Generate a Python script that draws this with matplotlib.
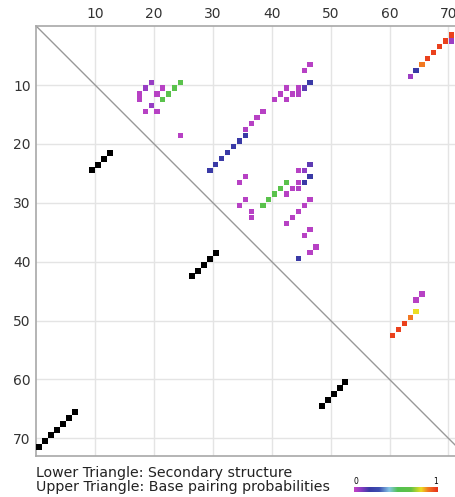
import matplotlib.pyplot as plt
import numpy as np
from matplotlib.colors import LinearSegmentedColormap

SEQ_LEN = 73

# secondary structure (lower triangle), pairs (i, j) with i < j
mfe_i = [1, 2, 3, 4, 5, 6, 7, 10, 11, 12, 13, 27, 28, 29, 30, 31, 49, 50, 51, 52, 53]
mfe_j = [72, 71, 70, 69, 68, 67, 66, 25, 24, 23, 22, 43, 42, 41, 40, 39, 65, 64, 63, 62, 61]

# base pairing probabilities (upper triangle)
bp_i = [10, 11, 12, 13, 11, 12, 14, 15, 15, 19, 10, 11, 12, 13,
        15, 16, 17, 18, 19, 20, 21, 22, 23, 24, 25,
        11, 12, 13, 13, 11, 12, 12, 11, 10, 8, 7,
        26, 27, 30, 31, 32, 33, 27, 28, 29, 30, 31,
        29, 28, 28, 27, 25, 27, 26, 25, 24,
        30, 31, 32, 33, 34, 35, 36, 39, 38, 40,
        49, 50, 51, 52, 53, 47, 46,
        9, 8, 7, 6, 5, 4, 3, 3, 2, 1]
bp_j = [20, 19, 18, 18, 22, 21, 20, 19, 21, 25, 25, 24, 23, 22,
        39, 38, 37, 36, 36, 35, 34, 33, 32, 31, 30,
        43, 42, 41, 43, 45, 44, 45, 46, 47, 46, 47,
        36, 35, 36, 35, 37, 37, 43, 42, 41, 40, 39,
        43, 44, 45, 45, 45, 46, 47, 46, 47,
        47, 46, 45, 44, 43, 47, 46, 47, 48, 45,
        65, 64, 63, 62, 61, 65, 66,
        64, 65, 66, 67, 68, 69, 70, 71, 71, 72]
bp_p = [0.07, 0.07, 0.02, 0.02, 0.02, 0.02, 0.07, 0.02, 0.02, 0.02, 0.6, 0.6, 0.6, 0.6,
        0.02, 0.02, 0.02, 0.03, 0.18, 0.18, 0.18, 0.18, 0.18, 0.18, 0.18,
        0.02, 0.02, 0.02, 0.02, 0.02, 0.02, 0.03, 0.14, 0.18, 0.02, 0.02,
        0.02, 0.02, 0.02, 0.02, 0.02, 0.02, 0.6, 0.6, 0.6, 0.6, 0.6,
        0.02, 0.02, 0.03, 0.02, 0.02, 0.18, 0.18, 0.08, 0.14,
        0.02, 0.02, 0.02, 0.02, 0.02, 0.02, 0.02, 0.02, 0.02, 0.18,
        0.8, 0.88, 0.97, 0.97, 0.97, 0.02, 0.02,
        0.06, 0.18, 0.88, 0.97, 0.97, 0.97, 0.97, 0.06, 0.97, 0.97]

cmap = LinearSegmentedColormap.from_list("bpp", [
    (0.0, "#c443c4"), (0.08, "#8e3cc4"), (0.18, "#3a3aa6"), (0.3, "#3d4fb0"),
    (0.42, "#86c6e6"), (0.52, "#52c152"), (0.68, "#62c246"), (0.8, "#ecde22"),
    (0.88, "#f27a22"), (1.0, "#e8301c")])

fig = plt.figure(figsize=(4.56, 4.97), dpi=100)
ax = fig.add_axes([36.3 / 456, 41 / 497, 429.8 / 456, 429.8 / 497])

ax.set_xlim(0, SEQ_LEN)
ax.set_ylim(SEQ_LEN, 0)
ticks = np.arange(10, 71, 10)
ax.set_xticks(ticks)
ax.set_yticks(ticks)
ax.xaxis.tick_top()
ax.tick_params(length=0, labelsize=10, labelcolor="#333333", pad=4)
ax.grid(True, color="#e4e4e4", linewidth=1)
ax.set_axisbelow(True)
for side in ["top", "left", "bottom", "right"]:
    ax.spines[side].set_color("#a8a8a8")
    ax.spines[side].set_linewidth(1.2)

ax.plot([0, SEQ_LEN], [0, SEQ_LEN], color="#999999", linewidth=1)

mi = np.array(mfe_i) - 0.5
mj = np.array(mfe_j) - 0.5
ax.scatter(mi, mj, marker="s", s=14, color="black", linewidths=0, zorder=3)

bi = np.array(bp_i) - 0.5
bj = np.array(bp_j) - 0.5
ax.scatter(bj, bi, marker="s", s=14, c=bp_p, cmap=cmap, vmin=0, vmax=1,
           linewidths=0, zorder=3)

fig.text(36 / 456, 1 - 473 / 497, "Lower Triangle: Secondary structure",
         fontsize=10.2, color="#222222", va="center", ha="left")
fig.text(36 / 456, 1 - 486.5 / 497, "Upper Triangle: Base pairing probabilities",
         fontsize=10.2, color="#222222", va="center", ha="left")

# colour scale
cax = fig.add_axes([354 / 456, 1 - 492.5 / 497, 84 / 456, 6 / 497])
cax.imshow(np.linspace(0, 1, 256)[None, :], aspect="auto", cmap=cmap,
           extent=[0, 1, 0, 1])
cax.set_axis_off()
fig.text(356 / 456, 1 - 481 / 497, "0", fontsize=5.5, ha="center", va="center")
fig.text(436 / 456, 1 - 481 / 497, "1", fontsize=5.5, ha="center", va="center")

fig.savefig("out.png", dpi=100)
